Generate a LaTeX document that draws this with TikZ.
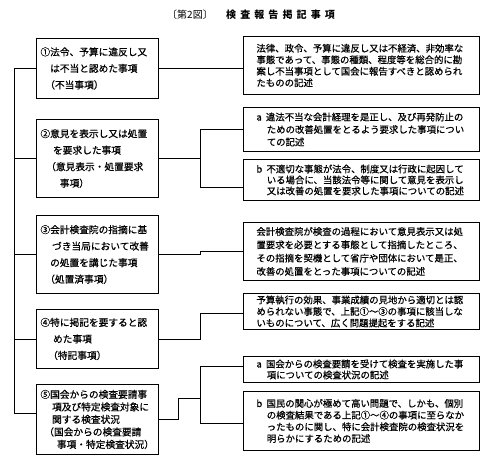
\documentclass[tikz,border=0pt]{standalone}
\usepackage{fontspec}
\setmainfont{Noto Sans CJK JP}
\usetikzlibrary{positioning}
\tikzset{
every node/.style={align=left},
lbox/.style={draw, line width=0.9pt, anchor=north west, text width=114pt,
  inner xsep=4pt, inner ysep=2pt, font=\fontsize{9.7pt}{16.5pt}\selectfont\addfontfeatures{FakeBold=0.6}},
rbox/.style={draw, line width=0.9pt, anchor=north west, text width=210pt,
  inner xsep=13pt, inner ysep=2pt, font=\fontsize{9.4pt}{11.5pt}\selectfont\addfontfeatures{FakeBold=0.6}},
link/.style={line width=0.9pt},
}
\newcommand{\ind}[1]{\hspace*{#1em}}

\begin{document}
\begin{tikzpicture}[x=1pt, y=-1pt]
\path[fill=white] (0,0) rectangle (494,464);
\node (fig) [anchor=west, inner sep=0pt, font=\fontsize{10pt}{11pt}\selectfont] at (167,15) {〔第2図〕};
\node (title) [anchor=west, inner sep=0pt, font=\fontsize{10pt}{11pt}\selectfont\bfseries\addfontfeatures{LetterSpace=41}]
  at (226,15) {検査報告掲記事項};
% left column
\node (l1) [lbox, minimum height=60pt] at (36,38)
  {①法令、予算に違反し又\\\ind{1}は不当と認めた事項\\\ind{0.5}（不当事項）};
\node (l2) [lbox, minimum height=78pt] at (36,119)
  {②意見を表示し又は処置\\\ind{1.3}を要求した事項\\\ind{0.6}（意見表示・処置要求\\\ind{2}事項）};
\node (l3) [lbox, minimum height=78pt] at (36,215)
  {③会計検査院の指摘に基\\\ind{1.2}づき当局において改善\\\ind{1}の処置を講じた事項\\\ind{0.5}（処置済事項）};
\node (l4) [lbox, minimum height=59pt] at (36,309)
  {④特に掲記を要すると認\\\ind{1.3}めた事項\\\ind{0.8}（特記事項）};
\node (l5) [lbox, minimum height=70pt, font=\fontsize{9.7pt}{12.5pt}\selectfont\addfontfeatures{FakeBold=0.6}] at (36,384)
  {⑤国会からの検査要請事\\\ind{1.2}項及び特定検査対象に\\\ind{1.2}関する検査状況\\\ind{0.4}（国会からの検査要請\\\ind{1.7}事項・特定検査状況）};
% right column
\node (r1) [rbox, minimum height=58pt] at (243,36)
  {法律、政令、予算に違反し又は不経済、非効率な\\事態であって、事態の種類、程度等を総合的に勘\\案し不当事項として国会に報告すべきと認められ\\たものの記述};
\node (r2a) [rbox, minimum height=44pt, font=\fontsize{9.4pt}{12.5pt}\selectfont\addfontfeatures{FakeBold=0.6}] at (243,107)
  {a\hspace{0.45em}違法不当な会計経理を是正し、及び再発防止の\\\ind{1.1}ための改善処置をとるよう要求した事項につい\\\ind{1.1}ての記述};
\node (r2b) [rbox, minimum height=41pt, font=\fontsize{9.4pt}{11pt}\selectfont\addfontfeatures{FakeBold=0.6}] at (243,159)
  {b\hspace{0.45em}不適切な事態が法令、制度又は行政に起因して\\\ind{1.1}いる場合に、当該法令等に関して意見を表示し\\\ind{1.1}又は改善の処置を要求した事項についての記述};
\node (r3) [rbox, minimum height=58pt, font=\fontsize{9.4pt}{13.3pt}\selectfont\addfontfeatures{FakeBold=0.6}] at (243,222)
  {会計検査院が検査の過程において意見表示又は処\\置要求を必要とする事態として指摘したところ、\\その指摘を契機として省庁や団体において是正、\\改善の処置をとった事項についての記述};
\node (r4) [rbox, minimum height=36pt] at (243,293)
  {予算執行の効果、事業成績の見地から適切とは認\\められない事態で、上記①～③の事項に該当しな\\いものについて、広く問題提起をする記述};
\node (r5a) [rbox, minimum height=26pt, font=\fontsize{9.4pt}{11pt}\selectfont\addfontfeatures{FakeBold=0.6}] at (243,356)
  {a\hspace{0.45em}国会からの検査要請を受けて検査を実施した事\\\ind{1.1}項についての検査状況の記述};
\node (r5b) [rbox, minimum height=59pt, font=\fontsize{9.4pt}{11.7pt}\selectfont\addfontfeatures{FakeBold=0.6}] at (243,391)
  {b\hspace{0.45em}国民の関心が極めて高い問題で、しかも、個別\\\ind{1.1}の検査結果である上記①～④の事項に至らなか\\\ind{1.1}ったものに関し、特に会計検査院の検査状況を\\\ind{1.1}明らかにするための記述};
% connectors
\draw[link] ([xshift=-22pt]l1.west) -- ([xshift=-22pt,yshift=6pt]l5.west);
\foreach \n in {1,...,4}
  \draw[link] (l\n.west) -- ++(-22,0);
\draw[link] ([yshift=6pt]l5.west) -- ++(-22,0);
\draw[link] (l1.east) -- (l1.east -| r1.west);
\coordinate (j2) at ([xshift=42pt]l2.east);
\draw[link] (l2.east) -- (j2) (r2a.west) -| (j2) |- ([yshift=-7pt]r2b.west);
\draw[link] (l3.east) -- ++(42,0) |- (r3.west);
\draw[link] (l4.east) -- ++(42,0) |- ([yshift=-2pt]r4.west);
\coordinate (j5) at ([xshift=42pt,yshift=21pt]l5.east);
\draw[link] (l5.east) -- ++(20,0) |- (j5);
\draw[link] ([yshift=3pt]r5a.west) -| (j5) |- ([yshift=-2.5pt]r5b.west);
\end{tikzpicture}
\end{document}
